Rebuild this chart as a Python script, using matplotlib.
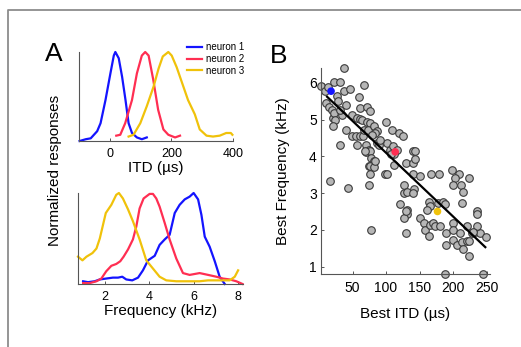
import numpy as np
import matplotlib
matplotlib.use("Agg")
import matplotlib.pyplot as plt
from matplotlib.lines import Line2D

plt.rcParams['font.family'] = ['Liberation Sans', 'DejaVu Sans']

# --- Panel A, top: ITD tuning curves (normalized) ---
itd_n1_x = [-98, -78, -62, -41, -30, -14, 2, 13, 18, 29, 40, 51, 61, 72, 88, 104, 120]
itd_n1_y = [0.0, 0.02, 0.03, 0.11, 0.2, 0.46, 0.76, 0.96, 1.0, 0.93, 0.72, 0.46, 0.2, 0.09, 0.04, 0.02, 0.04]
itd_n2_x = [21, 34, 50, 72, 88, 104, 115, 126, 141, 157, 174, 190, 212, 228]
itd_n2_y = [0.06, 0.07, 0.2, 0.46, 0.76, 0.96, 1.0, 0.96, 0.69, 0.35, 0.13, 0.07, 0.04, 0.06]
itd_n3_x = [61, 77, 99, 120, 142, 158, 172, 190, 201, 217, 233, 254, 276, 292, 314, 335, 357, 378, 393, 398]
itd_n3_y = [0.05, 0.07, 0.2, 0.39, 0.61, 0.81, 0.95, 1.0, 0.96, 0.83, 0.67, 0.46, 0.3, 0.13, 0.06, 0.05, 0.06, 0.09, 0.09, 0.07]

# --- Panel A, bottom: frequency tuning curves (normalized) ---
frq_n1_x = [1.03, 1.25, 1.55, 1.78, 2.07, 2.37, 2.6, 2.79, 2.97, 3.24, 3.5, 3.72, 3.95, 4.25, 4.47, 4.7,
            4.92, 5.15, 5.37, 5.6, 5.82, 6.0, 6.2, 6.35, 6.5, 6.72, 6.95, 7.17, 7.4]
frq_n1_y = [0.03, 0.02, 0.03, 0.05, 0.06, 0.07, 0.07, 0.08, 0.05, 0.04, 0.07, 0.15, 0.26, 0.31, 0.43, 0.49,
            0.54, 0.78, 0.87, 0.93, 0.96, 1.0, 0.93, 0.76, 0.52, 0.41, 0.25, 0.08, 0.0]
frq_n2_x = [1.03, 1.33, 1.63, 1.85, 2.07, 2.3, 2.52, 2.7, 2.85, 3.05, 3.27, 3.42, 3.57, 3.75, 4.02, 4.17,
            4.32, 4.47, 4.7, 4.92, 5.22, 5.52, 5.82, 6.27, 6.65, 7.02, 7.32, 7.62, 7.92, 8.2]
frq_n2_y = [0.01, 0.01, 0.03, 0.06, 0.14, 0.2, 0.22, 0.25, 0.3, 0.38, 0.49, 0.63, 0.83, 0.94, 0.99, 0.99,
            0.94, 0.85, 0.67, 0.49, 0.28, 0.12, 0.10, 0.12, 0.10, 0.08, 0.06, 0.05, 0.03, 0.0]
frq_n3_x = [0.8, 1.0, 1.18, 1.45, 1.63, 1.78, 2.05, 2.3, 2.52, 2.64, 2.82, 3.05, 3.27, 3.57, 3.87, 4.17,
            4.47, 4.77, 5.22, 5.67, 6.27, 6.65, 7.17, 7.62, 7.85, 8.0]
frq_n3_y = [0.30, 0.26, 0.30, 0.34, 0.39, 0.50, 0.78, 0.87, 0.98, 1.0, 0.94, 0.82, 0.69, 0.49, 0.26, 0.17,
            0.08, 0.04, 0.03, 0.03, 0.03, 0.04, 0.04, 0.04, 0.08, 0.15]

neuron_labels = ['neuron 1', 'neuron 2', 'neuron 3']
neuron_colors = ['#1414ff', '#ff2e52', '#f0c20a']

# --- Panel B: best ITD vs best frequency ---
best_itd = [38, 3.5, 8.4, 13.4, 22.8, 30.8, 26.8, 27.8, 36.7, 45.6, 10.4, 14.4, 19.3, 20.8, 22.8, 24.3, 20.8,
            40.7, 34.7, 31.7, 66.5, 59.5, 60.5, 71.4, 75.4, 49.1, 56.5, 61.5, 64.5, 71.4, 75.4, 40.7, 49.6,
            54.6, 61.5, 65.5, 31.7, 56.5, 67.5, 72.4, 81.4, 86.3, 83.8, 78.9, 99.2, 86.3, 69.5, 73.9, 70.5,
            76.4, 88.8, 108.6, 120.0, 125.0, 101.2, 106.2, 111.1, 116.1, 112.1, 107.1, 140.9, 143.4, 129.5,
            140.9, 143.4, 77.4, 81.4, 73.9, 76.4, 140.9, 150.9, 166.7, 179.2, 198.5, 208.4, 223.3, 98.8,
            101.2, 76.4, 112.1, 81.4, 84.0, 69.0, 91.0,
            16.9, 43.2, 73.9, 127.5, 127.5, 131, 141, 139.5, 203, 121.1, 131, 131, 127, 129.5, 163.3, 165.8,
            178.2, 185.6, 188.1, 149.9, 161.8, 156.8, 158.3, 164.8, 170.7, 173.2, 180.6, 189.6, 189.6, 200.5,
            200.5, 200.5, 205.5, 210.4, 213.4, 214.4, 220.4, 224.3, 212.4, 215.4, 212.9, 199.5, 235.2, 235.2,
            221.4, 227.8, 232.8, 240.2, 248.6, 235.2, 230.3, 224.3, 77.4, 130, 188.6, 244.2, 163.3]
best_freq = [6.41, 5.91, 5.78, 5.87, 6.02, 6.02, 5.64, 5.51, 5.78, 5.82, 5.44, 5.33, 5.26, 5.04, 5.17, 4.99, 4.83,
             5.40, 5.13, 5.26, 5.93, 5.62, 5.32, 5.33, 5.23, 5.13, 5.04, 5.01, 4.99, 4.92, 4.90, 4.72, 4.54,
             4.54, 4.54, 4.54, 4.32, 4.32, 4.72, 4.72, 4.81, 4.68, 4.63, 4.59, 4.92, 4.36, 4.32, 4.18, 4.11,
             4.14, 4.30, 4.72, 4.63, 4.54, 4.36, 4.18, 4.27, 4.18, 4.06, 4.06, 4.14, 4.14, 3.82,
             3.82, 3.93, 3.95, 3.86, 3.73, 3.73, 3.53, 3.46, 3.53, 3.53, 3.62, 3.53, 3.42, 3.53,
             3.53, 3.52, 3.76, 3.70, 3.88, 4.14, 4.45,
             3.32, 3.13, 3.22, 3.21, 3.00, 3.02, 3.12, 3.00, 3.41, 2.71, 2.53, 2.44, 2.32, 2.50, 2.77, 2.66,
             2.73, 2.77, 2.70, 2.32, 2.53, 2.18, 2.00, 2.14, 2.18, 2.11, 2.11, 1.91, 1.59, 2.20,
             2.00, 1.73, 1.59, 1.91, 1.68, 1.48, 1.71, 1.71, 3.22, 3.02, 2.73, 3.21, 2.50, 2.43,
             2.11, 1.91, 1.95, 1.91, 1.80, 2.11, 1.93, 1.30, 2.00, 1.91, 0.80, 0.80, 1.82]

# the three example neurons in panel A
ex_itd = [18, 113.6, 176.7]
ex_freq = [5.77, 4.12, 2.50]

# regression line end points
fit_itd = [12, 248]
fit_freq = [5.62, 1.53]

W, H = 521, 347
fig = plt.figure(figsize=(W / 100, H / 100), dpi=100)


def rect(x0, y0, x1, y1):
    # pixel box (top-left origin) -> figure fraction
    return [x0 / W, 1 - y1 / H, (x1 - x0) / W, (y1 - y0) / H]


def style(ax, size):
    for s in ['top', 'right']:
        ax.spines[s].set_visible(False)
    for s in ['left', 'bottom']:
        ax.spines[s].set_color('#555555')
        ax.spines[s].set_linewidth(0.8)
    ax.tick_params(direction='in', length=2.5, width=0.7, color='#555555', labelsize=size, pad=5)


# outer frame
fig.add_artist(Line2D([8 / W, 8 / W, 1.0], [0.0, 1 - 10 / H, 1 - 10 / H],
                      transform=fig.transFigure, color='#8c8c8c', lw=1.3))

# Panel A top
ax1 = fig.add_axes(rect(79, 52, 233, 141))
style(ax1, 9)
ax1.plot(itd_n1_x, itd_n1_y, color=neuron_colors[0], lw=1.6, label=neuron_labels[0])
ax1.plot(itd_n2_x, itd_n2_y, color=neuron_colors[1], lw=1.6, label=neuron_labels[1])
ax1.plot(itd_n3_x, itd_n3_y, color=neuron_colors[2], lw=1.6, label=neuron_labels[2])
ax1.set_xlim(-100, 400)
ax1.set_ylim(0, 1.0)
ax1.set_xticks([0, 200, 400])
ax1.set_yticks([])
ax1.set_xlabel('ITD (µs)', fontsize=11, labelpad=1)
for ln in ax1.lines:
    ln.set_clip_on(False)
ax1.legend(loc='upper left', bbox_to_anchor=(187 / W, 1 - 42 / H), bbox_transform=fig.transFigure,
           frameon=False, fontsize=7, handlelength=1.5, handletextpad=0.5, labelspacing=0.2,
           borderpad=0, borderaxespad=0)

# Panel A bottom
ax2 = fig.add_axes(rect(78, 193, 243, 284))
style(ax2, 9)
ax2.plot(frq_n1_x, frq_n1_y, color=neuron_colors[0], lw=1.6)
ax2.plot(frq_n2_x, frq_n2_y, color=neuron_colors[1], lw=1.6)
ax2.plot(frq_n3_x, frq_n3_y, color=neuron_colors[2], lw=1.6)
ax2.set_xlim(0.8, 8.22)
ax2.set_ylim(0, 1.0)
ax2.set_xticks([2, 4, 6, 8])
ax2.set_yticks([])
ax2.set_xlabel('Frequency (kHz)', fontsize=11, labelpad=1)
for ln in ax2.lines:
    ln.set_clip_on(False)

fig.text(55 / W, 1 - 170 / H, 'Normalized responses', rotation=90, fontsize=11,
         ha='center', va='center')
fig.text(54 / W, 1 - 54 / H, 'A', fontsize=19, ha='center', va='center')

# Panel B
ax3 = fig.add_axes(rect(321, 68, 490, 274))
style(ax3, 10)
ax3.scatter(best_itd, best_freq, s=30, facecolor='#b6b6b6', edgecolor='#3a3a3a', linewidth=0.8,
            zorder=2, clip_on=False)
ax3.plot(fit_itd, fit_freq, color='black', lw=1.6, zorder=3)
ax3.scatter(ex_itd, ex_freq, s=30, color=neuron_colors, linewidth=0, zorder=4)
ax3.set_xlim(3, 255)
ax3.set_ylim(0.8, 6.4)
ax3.set_xticks([50, 100, 150, 200, 250])
ax3.set_yticks([1, 2, 3, 4, 5, 6])
ax3.tick_params(axis='y', pad=3)
ax3.set_xlabel('Best ITD (µs)', fontsize=11, labelpad=9)
ax3.set_ylabel('Best Frequency (kHz)', fontsize=11, labelpad=14)
fig.text(279 / W, 1 - 56 / H, 'B', fontsize=19, ha='center', va='center')

fig.savefig('out.png', dpi=100)
